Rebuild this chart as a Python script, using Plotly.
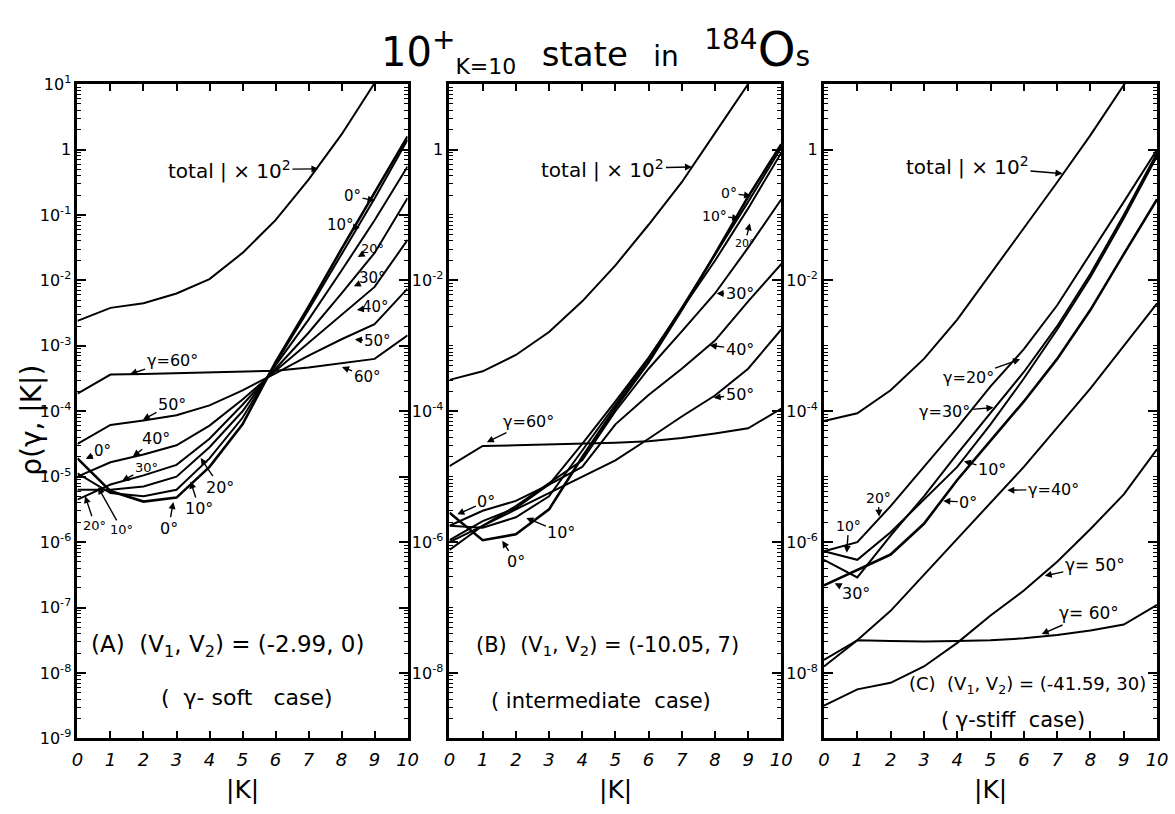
import plotly.graph_objects as go

# ---- data (log10 of rho) ----
K = [0, 1, 2, 3, 4, 5, 6, 7, 8, 9, 10]

A_total = [-2.62, -2.42, -2.35, -2.2, -1.98, -1.58, -1.08, -0.46, 0.23, 1.0, 1.8]
A_g0 = [-4.72, -5.22, -5.38, -5.32, -4.85, -4.2, -3.25, -2.4, -1.52, -0.65, 0.2]
A_g10 = [-4.95, -5.25, -5.3, -5.2, -4.72, -4.1, -3.27, -2.45, -1.6, -0.75, 0.15]
A_g20 = [-5.2, -5.2, -5.15, -5.0, -4.55, -4.0, -3.3, -2.6, -1.85, -1.08, -0.26]
A_g30 = [-5.35, -5.12, -4.98, -4.82, -4.42, -3.9, -3.35, -2.8, -2.2, -1.58, -0.74]
A_g40 = [-5.0, -4.78, -4.66, -4.52, -4.22, -3.82, -3.38, -2.95, -2.53, -2.1, -1.38]
A_g50 = [-4.5, -4.21, -4.14, -4.06, -3.91, -3.68, -3.42, -3.15, -2.9, -2.67, -2.125]
A_g60 = [-3.73, -3.44, -3.43, -3.42, -3.41, -3.40, -3.38, -3.33, -3.27, -3.20, -2.84]

B_total = [-3.52, -3.39, -3.14, -2.79, -2.32, -1.77, -1.15, -0.5, 0.25, 1.0, 1.75]
B_g0 = [-5.55, -5.97, -5.88, -5.5, -4.7, -3.95, -3.25, -2.45, -1.6, -0.72, 0.08]
B_g10 = [-5.75, -5.78, -5.62, -5.3, -4.6, -3.9, -3.2, -2.42, -1.62, -0.8, 0.03]
B_g20 = [-5.97, -5.68, -5.48, -5.12, -4.5, -3.85, -3.18, -2.45, -1.7, -0.9, -0.05]
B_g30 = [-6.12, -5.75, -5.45, -5.1, -4.75, -4.0, -3.35, -2.78, -2.2, -1.5, -0.76]
B_g40 = [-5.75, -5.52, -5.37, -5.12, -4.85, -4.2, -3.75, -3.35, -2.92, -2.32, -1.75]
B_g50 = [-6.0, -5.75, -5.5, -5.25, -5.0, -4.75, -4.42, -4.08, -3.76, -3.35, -2.75]
B_g60 = [-4.84, -4.53, -4.52, -4.51, -4.5, -4.48, -4.46, -4.41, -4.34, -4.26, -3.96]

C_total = [-4.15, -4.03, -3.68, -3.2, -2.6, -1.9, -1.2, -0.5, 0.22, 1.0, 1.75]
C_g0 = [-6.66, -6.42, -6.19, -5.72, -5.05, -4.45, -3.85, -3.2, -2.45, -1.6, -0.76]
C_g10 = [-6.14, -6.27, -5.85, -5.35, -4.85, -4.2, -3.5, -2.75, -1.95, -1.05, -0.1]
C_g20 = [-6.14, -6.0, -5.45, -4.85, -4.25, -3.62, -3.05, -2.38, -1.6, -0.8, 0.0]
C_g30 = [-6.27, -6.54, -5.9, -5.3, -4.65, -4.02, -3.4, -2.7, -1.9, -1.0, -0.05]
C_g40 = [-7.8, -7.5, -7.05, -6.5, -5.95, -5.4, -4.85, -4.25, -3.65, -3.0, -2.35]
C_g50 = [-8.5, -8.25, -8.15, -7.9, -7.54, -7.12, -6.74, -6.3, -5.8, -5.27, -4.58]
C_g60 = [-7.9, -7.5, -7.51, -7.52, -7.51, -7.5, -7.47, -7.42, -7.35, -7.26, -6.96]

# tick labels
A_tick_exp = [-9, -8, -7, -6, -5, -4, -3, -2, -1, 0, 1]
A_ticktext = ["10<sup>-9</sup>", "10<sup>-8</sup>", "10<sup>-7</sup>", "10<sup>-6</sup>", "10<sup>-5</sup>",
              "10<sup>-4</sup>", "10<sup>-3</sup>", "10<sup>-2</sup>", "10<sup>-1</sup>", "1", "10<sup>1</sup>"]
BC_tick_exp = [-8, -6, -4, -2, 0]
BC_ticktext = ["10<sup>-8</sup>", "10<sup>-6</sup>", "10<sup>-4</sup>", "10<sup>-2</sup>", "1"]
BC_unlabelled_exp = [-9, -7, -5, -3, -1, 1]
K_ticktext = [str(k) for k in K]

panels = [
    ("A", [A_total, A_g0, A_g10, A_g20, A_g30, A_g40, A_g50, A_g60], A_tick_exp, A_ticktext),
    ("B", [B_total, B_g0, B_g10, B_g20, B_g30, B_g40, B_g50, B_g60], BC_tick_exp, BC_ticktext),
    ("C", [C_total, C_g0, C_g10, C_g20, C_g30, C_g40, C_g50, C_g60], BC_tick_exp, BC_ticktext),
]
names = ["total x10^2", "0", "10", "20", "30", "40", "50", "60"]

W, H = 1175, 814
x_dom = [(72.5, 407.5), (450, 786.7), (830, 1168)]
y_top, y_bot = 75, 746.7

FONT = "DejaVu Sans"
fig = go.Figure()

for i, (pname, series, texp, ttext) in enumerate(panels):
    ax_id = "" if i == 0 else str(i + 1)
    for j, s in enumerate(series):
        fig.add_trace(go.Scatter(
            x=K, y=[10 ** v for v in s], mode="lines",
            line=dict(color="black", width=2.6 if j == 1 else 2),
            name=f"{pname} {names[j]}", showlegend=False,
            xaxis="x" + ax_id, yaxis="y" + ax_id, hoverinfo="skip"))
    x0, x1 = x_dom[i]
    fig.layout["xaxis" + ax_id] = dict(
        domain=[x0 / W, x1 / W], range=[0, 10], tickvals=K, ticktext=K_ticktext,
        ticks="inside", ticklen=7, tickwidth=2, tickcolor="black", mirror="ticks",
        showline=True, linewidth=3, linecolor="black", showgrid=False, zeroline=False,
        anchor="y" + ax_id, ticklabelstandoff=3,
        tickfont=dict(family=FONT, size=18, color="black", style="italic"))
    fig.layout["yaxis" + ax_id] = dict(
        domain=[1 - y_bot / H, 1 - y_top / H], type="log", range=[-9, 1],
        tickvals=[10.0 ** d for d in texp], ticktext=ttext,
        ticks="inside", ticklen=9, tickwidth=2, tickcolor="black", mirror="ticks",
        showline=True, linewidth=3, linecolor="black", showgrid=False, zeroline=False,
        anchor="x" + ax_id,
        minor=dict(ticks="inside", ticklen=4, tickwidth=1, tickcolor="black", dtick="D1", showgrid=False),
        tickfont=dict(family=FONT, size=16, color="black"))

# unlabelled decade ticks for panels B and C (overlay axes)
for i, ax_id in [(1, "2"), (2, "3")]:
    ov = str(4 + i - 1)
    fig.layout["yaxis" + ov] = dict(
        overlaying="y" + ax_id, anchor="x" + ax_id, type="log", range=[-9, 1],
        tickvals=[10.0 ** d for d in BC_unlabelled_exp], showticklabels=False,
        ticks="inside", ticklen=9, tickwidth=2, tickcolor="black", mirror="ticks",
        showline=False, showgrid=False, zeroline=False)

annots = []


def txt(x, y, s, size=17, **kw):
    annots.append(dict(x=x / W, y=1 - y / H, xref="paper", yref="paper", text=s, showarrow=False,
                       xanchor="center", yanchor="middle",
                       font=dict(family=FONT, size=size, color="black"), **kw))


def arr(tip, pos, s, size=15):
    annots.append(dict(x=tip[0] / W, y=1 - tip[1] / H, xref="paper", yref="paper", text=s,
                       showarrow=True, ax=pos[0] - tip[0], ay=pos[1] - tip[1], axref="pixel", ayref="pixel",
                       arrowhead=2, arrowsize=1, arrowwidth=1.4, arrowcolor="black", standoff=1,
                       font=dict(family=FONT, size=size, color="black")))


# title and axis titles
txt(598, 40,
    "10<sup>+</sup><sub><span style='font-size:22px'>K=10</span></sub>  "
    "<span style='font-size:34px'>state</span>  "
    "<span style='font-size:28px'>in</span>  <sup>184</sup><span style='font-size:48px'>O</span>"
    "<span style='font-size:28px'>s</span>", size=40)
txt(26, 420, "ρ(γ, |K|)", size=28, textangle=-90)
for (x0, x1) in x_dom:
    txt((x0 + x1) / 2, 799, "|K|", size=25)

# panel texts
txt(225, 652, "(A)  (V<sub>1</sub>, V<sub>2</sub>) = (-2.99, 0)", size=23)
txt(245, 705, "(  γ- soft   case)", size=22)
txt(610, 652, "(B)  (V<sub>1</sub>, V<sub>2</sub>) = (-10.05, 7)", size=21)
txt(604, 708, "( intermediate  case)", size=21)
txt(1036, 692, "(C)  (V<sub>1</sub>, V<sub>2</sub>) = (-41.59, 30)", size=18)
txt(1022, 728, "( γ-stiff  case)", size=21)

# panel A labels
arr((318, 162), (228, 163), "total | × 10<sup>2</sup>", size=20)
arr((375, 195), (352, 190), "0°")
arr((360, 223), (340, 220), "10°")
arr((356, 253), (372, 244), "20°", size=13)
arr((352, 283), (372, 274), "30°")
arr((355, 307), (375, 304), "40°")
arr((353, 337), (377, 339), "50°")
arr((340, 365), (366, 375), "60°")
arr((125, 373), (168, 359), "γ=60°", size=16)
arr((138, 420), (168, 404), "50°", size=16)
arr((80, 460), (98, 452), "0°")
arr((128, 458), (152, 439), "40°", size=16)
arr((117, 483), (142, 469), "30°", size=13)
arr((80, 497), (90, 527), "20°", size=13)
arr((93, 488), (117, 531), "10°", size=13)
arr((170, 503), (165, 530), "0°", size=16)
arr((187, 482), (196, 510), "10°", size=16)
arr((197, 458), (217, 488), "20°", size=16)

# panel B labels
arr((697, 160), (607, 162), "total | × 10<sup>2</sup>", size=20)
arr((757, 190), (734, 187), "0°", size=14)
arr((745, 213), (719, 210), "10°", size=14)
arr((755, 217), (750, 238), "20°", size=11)
arr((720, 290), (744, 290), "30°", size=16)
arr((713, 343), (744, 347), "40°", size=16)
arr((717, 397), (744, 394), "50°", size=16)
arr((487, 443), (530, 422), "γ=60°", size=16)
arr((457, 517), (487, 504), "0°", size=16)
arr((527, 520), (563, 535), "10°", size=16)
arr((503, 543), (517, 565), "0°", size=16)

# panel C labels
arr((1073, 167), (977, 159), "total | × 10<sup>2</sup>", size=20)
arr((1030, 357), (977, 376), "γ=20°", size=16)
arr((1003, 407), (953, 411), "γ=30°", size=16)
arr((971, 462), (1000, 470), "10°", size=16)
arr((1015, 492), (1062, 491), "γ=40°", size=16)
arr((950, 503), (976, 504), "0°", size=16)
arr((886, 520), (885, 500), "20°", size=14)
arr((853, 557), (855, 529), "10°", size=14)
arr((840, 587), (862, 598), "30°", size=16)
arr((1053, 580), (1104, 569), "γ= 50°", size=17)
arr((1050, 640), (1098, 619), "γ= 60°", size=17)

fig.update_layout(
    width=W, height=H, margin=dict(l=0, r=0, t=0, b=0),
    paper_bgcolor="white", plot_bgcolor="white", annotations=annots, showlegend=False)

fig.write_html("out.html")
